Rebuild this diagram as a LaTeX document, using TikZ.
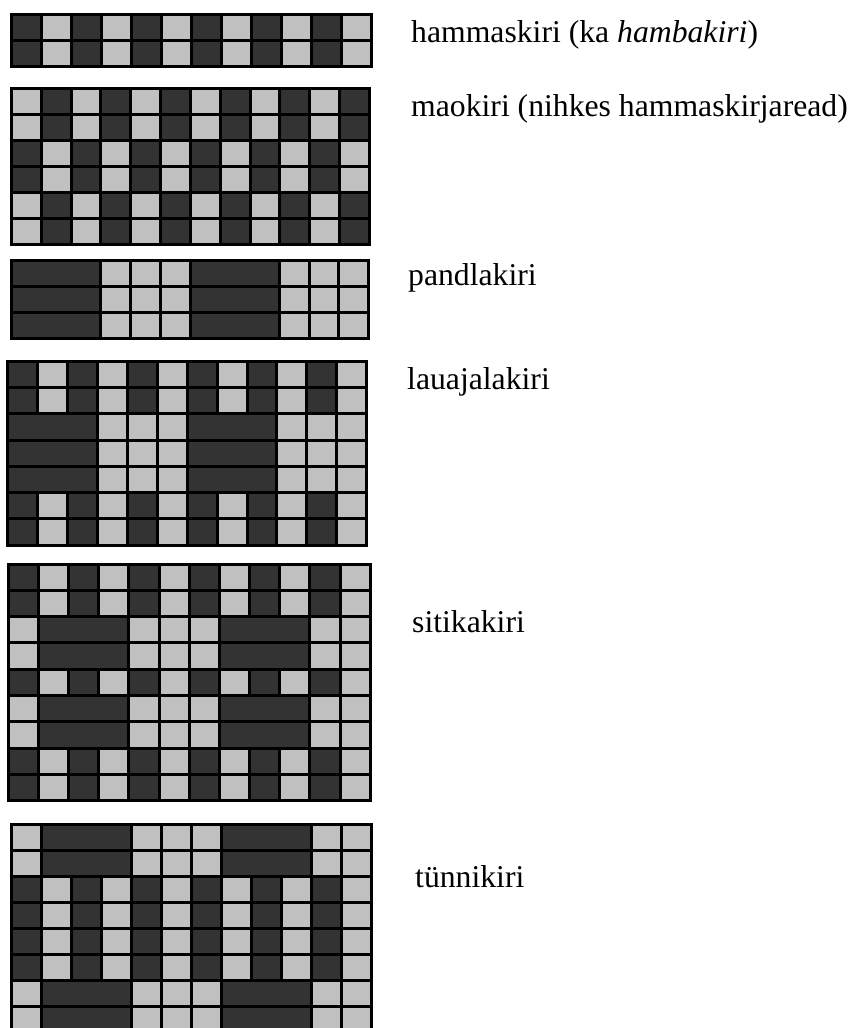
\documentclass[tikz,border=0pt]{standalone}
\usepackage{fontspec}
\setmainfont{Liberation Serif}
\definecolor{kdark}{RGB}{51,51,51}
\definecolor{klight}{RGB}{192,192,192}

% row patterns: start column / width / colour
\def\rowA{0/1/kdark,1/1/klight,2/1/kdark,3/1/klight,4/1/kdark,5/1/klight,6/1/kdark,7/1/klight,8/1/kdark,9/1/klight,10/1/kdark,11/1/klight}
\def\rowB{0/1/klight,1/1/kdark,2/1/klight,3/1/kdark,4/1/klight,5/1/kdark,6/1/klight,7/1/kdark,8/1/klight,9/1/kdark,10/1/klight,11/1/kdark}
\def\rowP{0/3/kdark,3/1/klight,4/1/klight,5/1/klight,6/3/kdark,9/1/klight,10/1/klight,11/1/klight}
\def\rowQ{0/1/klight,1/3/kdark,4/1/klight,5/1/klight,6/1/klight,7/3/kdark,10/1/klight,11/1/klight}

% #1,#2 top left corner, #3 cell width, #4 row height, #5 rows
\newcommand{\kiri}[5]{%
  \foreach \r [count=\i from 0] in {#5}{
    \edef\cells{\csname row\r\endcsname}
    \foreach \c/\n/\f in \cells
      \filldraw[cell, fill=\f] ({#1+\c*#3},{#2+\i*#4}) rectangle ++({\n*#3},#4);
  }}

\begin{document}
\begin{tikzpicture}[x=1pt, y=-1pt, cell/.style={draw=black, line width=3pt},
  lbl/.style={anchor=base west, inner sep=0pt, font=\fontsize{31.7}{36}\selectfont}]
	\useasboundingbox (0,0) rectangle (851,1028);
	\clip (0,0) rectangle (851,1028);
	% hammaskiri
	\kiri{11.5}{14.8}{29.97}{25.7}{A,A}
	\node[lbl] (hammas) at (411,42) {hammaskiri (ka \textit{hambakiri})};
	% maokiri
	\kiri{11.5}{88.8}{29.83}{25.9}{B,B,A,A,B,B}
	\node[lbl] (mao) at (411,116.5) {maokiri (nihkes hammaskirjaread)};
	% pandlakiri
	\kiri{11.5}{260.8}{29.75}{25.9}{P,P,P}
	\node[lbl] (pandla) at (408,285) {pandlakiri};
	% lauajalakiri
	\kiri{7.5}{361.5}{29.94}{26.24}{A,A,P,P,P,A,A}
	\node[lbl] (lauajala) at (407,389) {lauajalakiri};
	% sitikakiri
	\kiri{8.2}{564.2}{30.17}{26.26}{A,A,Q,Q,A,Q,Q,A,A}
	\node[lbl] (sitika) at (412,632) {sitikakiri};
	% tynnikiri
	\kiri{11.5}{824.2}{30}{26}{Q,Q,A,A,A,A,Q,Q}
	\node[lbl] (tynni) at (415,887) {tünnikiri};
\end{tikzpicture}
\end{document}
